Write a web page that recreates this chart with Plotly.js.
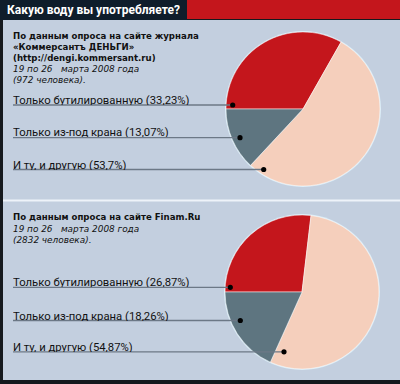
<!DOCTYPE html>
<html><head><meta charset="utf-8">
<script src="https://cdn.plot.ly/plotly-3.0.1.min.js"></script>
<style>html,body{margin:0;padding:0;background:#c3cfdf}#chart{width:400px;height:384px}</style>
</head><body><div id="chart"></div>
<script>
const chartTitle = 'Какую воду вы употребляете?';
const categories = ['Только бутилированную', 'Только из-под крана', 'И ту, и другую'];
const kommersantValues = [33.23, 13.07, 53.7];
const finamValues = [26.87, 18.26, 54.87];
const kommersantHeader = ['По данным опроса на сайте журнала', '«Коммерсантъ ДЕНЬГИ»', '(http://dengi.kommersant.ru)'];
const kommersantNote = ['19 по 26   марта 2008 года', '(972 человека).'];
const finamHeader = ['По данным опроса на сайте Finam.Ru'];
const finamNote = ['19 по 26   марта 2008 года', '(2832 человека).'];
const sliceColors = ['#c4161c', '#5e7580', '#f5cfbc'];

const W = 400, H = 384;
const px = x => x / W;
const py = y => 1 - y / H;
const FONT = 'Roboto, "Liberation Sans", sans-serif';
const HFONT = '"DejaVu Sans", Roboto, sans-serif';

// draw order: bottled (up from 9 o'clock, clockwise), both, tap
const order = [0, 2, 1];
function pieTrace(values, cx, cy, r) {
  return {
    type: 'pie', sort: false, direction: 'clockwise', rotation: -90,
    labels: order.map(i => categories[i]),
    values: order.map(i => values[i]),
    marker: {colors: order.map(i => sliceColors[i]), line: {color: 'rgba(255,255,255,0.7)', width: 0.7}},
    textinfo: 'none', hoverinfo: 'label+percent', showlegend: false,
    domain: {x: [px(cx - r), px(cx + r)], y: [py(cy + r), py(cy - r)]}
  };
}
const pct = v => String(v).replace('.', ',') + '%';

const shapes = [];
const annotations = [];
function rect(x0, y0, x1, y1, color) {
  shapes.push({type: 'rect', xref: 'paper', yref: 'paper', x0: px(x0), x1: px(x1), y0: py(y1), y1: py(y0),
    fillcolor: color, line: {width: 0}, layer: 'below'});
}
function hline(x0, x1, y, color, w) {
  shapes.push({type: 'line', xref: 'paper', yref: 'paper', x0: px(x0), x1: px(x1), y0: py(y), y1: py(y),
    line: {color: color, width: w}, layer: 'above'});
}
function dot(x, y) {
  shapes.push({type: 'circle', xref: 'paper', yref: 'paper', x0: px(x - 2.6), x1: px(x + 2.6), y0: py(y + 2.6), y1: py(y - 2.6),
    fillcolor: '#000', line: {width: 0}, layer: 'above'});
}
function halo(cx, cy, r) {
  shapes.push({type: 'circle', xref: 'paper', yref: 'paper', x0: px(cx - r), x1: px(cx + r), y0: py(cy + r), y1: py(cy - r),
    fillcolor: '#d6eaf6', line: {width: 0}, layer: 'below'});
}
function text(t, x, y, opts) {
  annotations.push(Object.assign({text: t, xref: 'paper', yref: 'paper', x: px(x), y: py(y), xanchor: 'left', yanchor: 'middle',
    showarrow: false, align: 'left', borderpad: 0, height: 10,
    font: {family: FONT, size: 11.3, color: '#111'}}, opts || {}));
}
const boldFont = {family: HFONT, size: 8.6, color: '#111'};
const noteFont = {family: HFONT, size: 8.9, color: '#111'};

// frame
rect(0, 0, 400, 384, '#15191e');
rect(3, 20, 400, 380, '#c3cfdf');
rect(0, 0, 187, 20, '#0f1d2b');
rect(187, 0, 400, 19, '#c4161c');
rect(3, 199.5, 400, 201.5, '#eef3f9');
halo(303, 109, 78);
halo(302, 292, 78);

text('<b>' + chartTitle + '</b>', 6, 10, {height: 16, font: {family: FONT, size: 12, color: '#fff'}});

// panel texts
kommersantHeader.forEach((t, i) => text('<b>' + t + '</b>', 12, 36 + i * 11, {font: boldFont}));
kommersantNote.forEach((t, i) => text('<i>' + t + '</i>', 12, 69 + i * 11, {font: noteFont}));
finamHeader.forEach((t, i) => text('<b>' + t + '</b>', 12, 217 + i * 11, {font: boldFont}));
finamNote.forEach((t, i) => text('<i>' + t + '</i>', 12, 228.5 + i * 11, {font: noteFont}));

// labels + leaders
const k1 = [[100, 105, 232.7], [132.5, 137.7, 240], [165, 169.5, 263.7]];
categories.forEach((c, i) => {
  text(c + ' (' + pct(kommersantValues[i]) + ')', 12, k1[i][0]);
  hline(13, k1[i][2], k1[i][1], '#6c7886', 1.3);
  dot(k1[i][2], k1[i][1]);
});
const k2 = [[281.5, 287.3, 230.3], [315.5, 320.5, 240.3], [346.5, 351.8, 284]];
categories.forEach((c, i) => {
  text(c + ' (' + pct(finamValues[i]) + ')', 12, k2[i][0]);
  hline(13, k2[i][2], k2[i][1], '#6c7886', 1.3);
  dot(k2[i][2], k2[i][1]);
});

const data = [pieTrace(kommersantValues, 303, 109, 77), pieTrace(finamValues, 302, 292, 77)];
Plotly.newPlot('chart', data, {
  width: W, height: H, margin: {l: 0, r: 0, t: 0, b: 0},
  paper_bgcolor: '#c3cfdf', plot_bgcolor: '#c3cfdf',
  shapes: shapes, annotations: annotations
}, {displayModeBar: false, staticPlot: true});
</script></body></html>
